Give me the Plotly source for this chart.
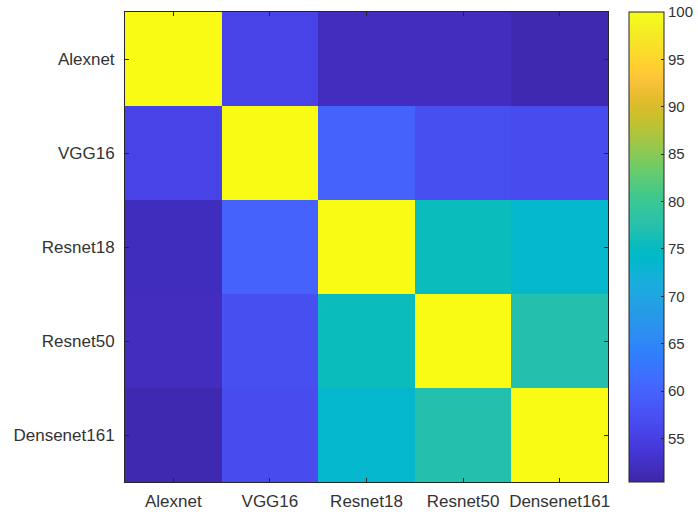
import plotly.graph_objects as go

# Model names and pairwise similarity (%) between them
models = ["Alexnet", "VGG16", "Resnet18", "Resnet50", "Densenet161"]
similarity = [
    [100.0, 55.6, 51.9, 51.9, 51.0],
    [55.6, 100.0, 60.0, 57.2, 56.8],
    [51.8, 60.0, 100.0, 75.6, 73.6],
    [51.9, 57.2, 75.6, 100.0, 77.2],
    [51.0, 56.8, 73.6, 77.2, 100.0],
]
cbar_ticks = [55, 60, 65, 70, 75, 80, 85, 90, 95, 100]
z_min, z_max = 50.4, 100.0

# Parula colormap
parula = [
    (0.2422, 0.1504, 0.6603), (0.2504, 0.1650, 0.7076), (0.2578, 0.1818, 0.7511),
    (0.2647, 0.1978, 0.7952), (0.2706, 0.2147, 0.8364), (0.2751, 0.2342, 0.8710),
    (0.2783, 0.2559, 0.8991), (0.2803, 0.2782, 0.9221), (0.2813, 0.3006, 0.9414),
    (0.2810, 0.3228, 0.9579), (0.2795, 0.3447, 0.9717), (0.2760, 0.3667, 0.9829),
    (0.2699, 0.3892, 0.9906), (0.2602, 0.4123, 0.9952), (0.2440, 0.4358, 0.9988),
    (0.2206, 0.4603, 0.9973), (0.1963, 0.4847, 0.9892), (0.1834, 0.5074, 0.9798),
    (0.1786, 0.5289, 0.9682), (0.1764, 0.5499, 0.9520), (0.1687, 0.5703, 0.9359),
    (0.1540, 0.5902, 0.9218), (0.1460, 0.6091, 0.9079), (0.1380, 0.6276, 0.8973),
    (0.1248, 0.6459, 0.8883), (0.1113, 0.6635, 0.8763), (0.0952, 0.6798, 0.8598),
    (0.0689, 0.6948, 0.8394), (0.0297, 0.7082, 0.8163), (0.0036, 0.7197, 0.7917),
    (0.0067, 0.7293, 0.7660), (0.0433, 0.7377, 0.7397), (0.0964, 0.7452, 0.7123),
    (0.1408, 0.7528, 0.6839), (0.1717, 0.7603, 0.6541), (0.1938, 0.7683, 0.6229),
    (0.2161, 0.7762, 0.5898), (0.2470, 0.7838, 0.5545), (0.2906, 0.7894, 0.5178),
    (0.3406, 0.7934, 0.4786), (0.3909, 0.7958, 0.4380), (0.4456, 0.7961, 0.3974),
    (0.5044, 0.7929, 0.3578), (0.5616, 0.7875, 0.3207), (0.6174, 0.7812, 0.2841),
    (0.6720, 0.7738, 0.2484), (0.7242, 0.7650, 0.2144), (0.7738, 0.7559, 0.1848),
    (0.8203, 0.7447, 0.1736), (0.8634, 0.7389, 0.1716), (0.9035, 0.7392, 0.1839),
    (0.9393, 0.7472, 0.2044), (0.9728, 0.7646, 0.2221), (0.9956, 0.7881, 0.2056),
    (0.9952, 0.8131, 0.1836), (0.9893, 0.8392, 0.1729), (0.9796, 0.8653, 0.1617),
    (0.9709, 0.8918, 0.1524), (0.9626, 0.9181, 0.1434), (0.9585, 0.9443, 0.1339),
    (0.9610, 0.9707, 0.1222), (0.9769, 0.9839, 0.0805),
]
n = len(parula)
colorscale = [
    [i / (n - 1), "rgb({:.0f},{:.0f},{:.0f})".format(r * 255, g * 255, b * 255)]
    for i, (r, g, b) in enumerate(parula)
]

W, H = 698, 516
L, R, T, B = 125, 90, 12, 34
plot_w = W - L - R
text_col = "#333333"
axis_col = "#262626"

fig = go.Figure(
    go.Heatmap(
        z=similarity,
        x=models,
        y=models,
        zmin=z_min,
        zmax=z_max,
        colorscale=colorscale,
        hoverongaps=False,
        colorbar=dict(
            x=1 + (629 - (L + plot_w)) / plot_w,
            xanchor="left",
            y=1.0,
            yanchor="top",
            thickness=35,
            thicknessmode="pixels",
            len=1.0,
            lenmode="fraction",
            outlinewidth=1,
            outlinecolor=axis_col,
            ticks="inside",
            ticklen=3,
            tickcolor=axis_col,
            tickvals=cbar_ticks,
            tickfont=dict(family="Liberation Sans, Arial", size=15, color=text_col),
            xpad=0,
            ypad=0,
        ),
    )
)

axis_common = dict(
    showline=True,
    linecolor=axis_col,
    linewidth=1,
    mirror="ticks",
    ticks="inside",
    ticklen=4,
    tickcolor=axis_col,
    showgrid=False,
    zeroline=False,
    automargin=False,
    tickfont=dict(family="Liberation Sans, Arial", size=17, color=text_col),
)

fig.update_layout(
    width=W,
    height=H,
    margin=dict(l=L, r=R, t=T, b=B, pad=0, autoexpand=False),
    paper_bgcolor="white",
    plot_bgcolor="white",
    xaxis=dict(**axis_common, ticklabelstandoff=4),
    yaxis=dict(**axis_common, autorange="reversed", ticklabelstandoff=6),
)

fig.write_html("out.html")
